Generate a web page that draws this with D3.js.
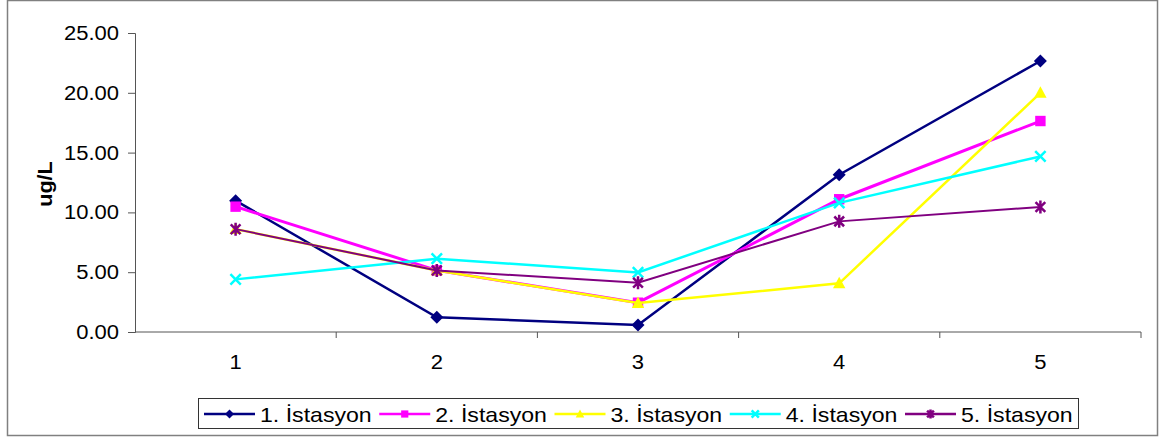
<!DOCTYPE html>
<html>
<head>
<meta charset="utf-8">
<script src="https://cdn.jsdelivr.net/npm/d3@7"></script>
<style>
  html, body { margin: 0; padding: 0; background: #fff; }
  svg { display: block; font-family: "Liberation Sans", Arial, sans-serif; }
</style>
</head>
<body>
<svg id="chart" width="1161" height="439"></svg>
<script>
// Sampling points along the x axis
const categories = ["1", "2", "3", "4", "5"];

// Measured concentrations (ug/L) per station
const station1 = [10.98, 1.23, 0.58, 13.15, 22.66];
const station2 = [10.48, 5.15, 2.45, 11.1, 17.64];
const station3 = [8.6, 5.15, 2.42, 4.07, 20.0];
const station4 = [4.4, 6.13, 4.98, 10.8, 14.68];
const station5 = [8.6, 5.15, 4.12, 9.25, 10.45];

const seriesNames = ["1. İstasyon", "2. İstasyon", "3. İstasyon", "4. İstasyon", "5. İstasyon"];
const seriesColors = ["#000080", "#FF00FF", "#FFFF00", "#00FFFF", "#800080"];
const seriesMarkers = ["diamond", "square", "triangle", "cross", "star"];

const yTicks = [0, 5, 10, 15, 20, 25];
const yTitle = "ug/L";

const series = [station1, station2, station3, station4, station5].map((values, i) => ({
  name: seriesNames[i], color: seriesColors[i], marker: seriesMarkers[i], values
}));

const svg = d3.select("#chart");
const plot = { left: 135, right: 1141, top: 33, bottom: 332 };

// Text in this chart is rendered slightly wide
function widen(sel, factor) {
  sel.each(function () {
    const len = this.getComputedTextLength();
    d3.select(this).attr("textLength", len * factor).attr("lengthAdjust", "spacingAndGlyphs");
  });
}

// Outer frame
svg.append("rect")
  .attr("x", 7.5).attr("y", 0.5).attr("width", 1150).attr("height", 435)
  .attr("fill", "#fff").attr("stroke", "#808080").attr("stroke-width", 1.5);

const x = d3.scalePoint().domain(categories).range([plot.left, plot.right]).padding(0.5);
const xBand = d3.scaleBand().domain(categories).range([plot.left, plot.right]);
const y = d3.scaleLinear().domain([0, 25]).range([plot.bottom, plot.top]);

// Y axis
const yAxis = svg.append("g").attr("transform", `translate(${plot.left},0)`)
  .call(d3.axisLeft(y).tickValues(yTicks).tickFormat(d3.format(".2f")).tickSize(7).tickPadding(9));
yAxis.select(".domain").attr("stroke", "#555").attr("stroke-width", 1);
yAxis.selectAll(".tick line").attr("stroke", "#555");
const yLabels = yAxis.selectAll(".tick text")
  .attr("font-size", 20).attr("fill", "#000")
  .attr("font-family", "Liberation Sans, Arial, sans-serif");
widen(yLabels, 1.1);

// X axis: ticks sit on category boundaries, labels at category centres
const xg = svg.append("g").attr("transform", `translate(0,${plot.bottom})`);
xg.append("line").attr("x1", plot.left).attr("x2", plot.right)
  .attr("stroke", "#555").attr("stroke-width", 1);
xg.selectAll("line.tk").data(categories).enter().append("line")
  .attr("class", "tk")
  .attr("x1", d => xBand(d) + xBand.bandwidth()).attr("x2", d => xBand(d) + xBand.bandwidth())
  .attr("y1", 0).attr("y2", 6).attr("stroke", "#555");
const xLabels = xg.selectAll("text").data(categories).enter().append("text")
  .attr("x", d => x(d)).attr("y", 37)
  .attr("text-anchor", "middle").attr("font-size", 20).attr("fill", "#000")
  .text(d => d);
widen(xLabels, 1.1);

// Y axis title
const title = svg.append("text")
  .attr("transform", "translate(52,184) rotate(-90)")
  .attr("text-anchor", "middle").attr("font-size", 20).attr("font-weight", "bold")
  .text(yTitle);
widen(title, 1.08);

// Marker drawing
function drawMarker(g, type, color, size) {
  const s = size;
  if (type === "diamond") {
    g.append("path").attr("d", `M0,${-s}L${s},0L0,${s}L${-s},0Z`).attr("fill", color);
  } else if (type === "square") {
    g.append("rect").attr("x", -s * 0.8).attr("y", -s * 0.8).attr("width", s * 1.6).attr("height", s * 1.6).attr("fill", color);
  } else if (type === "triangle") {
    g.append("path").attr("d", `M0,${-s}L${s * 0.95},${s * 0.75}L${-s * 0.95},${s * 0.75}Z`).attr("fill", color);
  } else if (type === "cross") {
    const c = s * 0.8;
    g.append("path").attr("d", `M${-c},${-c}L${c},${c}M${-c},${c}L${c},${-c}`)
      .attr("stroke", color).attr("stroke-width", 2.5).attr("fill", "none");
  } else if (type === "star") {
    const c = s * 0.75;
    g.append("path").attr("d", `M${-c},${-c}L${c},${c}M${-c},${c}L${c},${-c}M0,${-s}L0,${s}`)
      .attr("stroke", color).attr("stroke-width", 2.5).attr("fill", "none");
  }
}

// Lines and markers
const line = d3.line().x((d, i) => x(categories[i])).y(d => y(d));
const lineWidths = [2.5, 3, 2.5, 2.5, 2];

series.forEach((s, si) => {
  const g = svg.append("g");
  g.append("path").datum(s.values)
    .attr("d", line).attr("fill", "none")
    .attr("stroke", s.color).attr("stroke-width", lineWidths[si]);
  s.values.forEach((v, i) => {
    const m = g.append("g").attr("transform", `translate(${x(categories[i])},${y(v)})`);
    drawMarker(m, s.marker, s.color, 6.5);
  });
});

// Legend
const legend = svg.append("g");
legend.append("rect")
  .attr("x", 198.5).attr("y", 398.5).attr("width", 880).attr("height", 30)
  .attr("fill", "#fff").attr("stroke", "#333").attr("stroke-width", 1);

const legendX = d3.scaleLinear().domain([0, 4]).range([204, 905]);
series.forEach((s, i) => {
  const lx = legendX(i);
  const item = legend.append("g").attr("transform", `translate(${lx},414)`);
  item.append("line").attr("x1", 0).attr("x2", 51).attr("y1", 0).attr("y2", 0)
    .attr("stroke", s.color).attr("stroke-width", 2.5);
  const m = item.append("g").attr("transform", "translate(25.5,0)");
  drawMarker(m, s.marker, s.color, 4.5);
  const t = item.append("text").attr("x", 56).attr("y", 7.5)
    .attr("font-size", 21).attr("fill", "#000")
    .text(s.name);
  widen(t, 1.1);
});
</script>
</body>
</html>
